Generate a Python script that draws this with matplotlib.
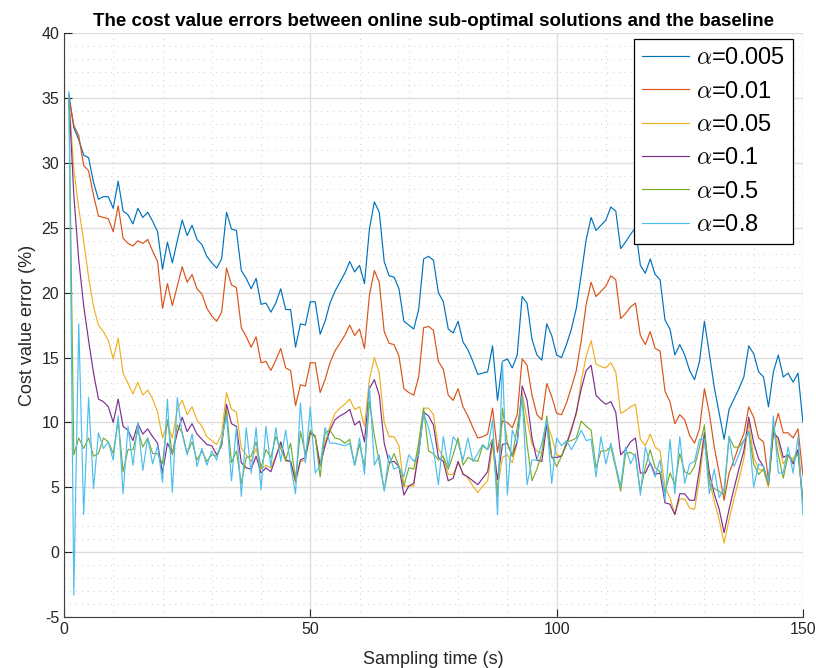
import numpy as np
import matplotlib
matplotlib.use('Agg')
import matplotlib.pyplot as plt
from matplotlib.ticker import MultipleLocator

plt.rcParams['font.family'] = ['Liberation Sans', 'DejaVu Sans']
plt.rcParams['mathtext.fontset'] = 'cm'
plt.rcParams['axes.unicode_minus'] = False

t = np.arange(1, 151)

a0005 = [35.3, 32.7, 31.8, 30.6, 30.4, 28.5, 27.2, 27.4, 27.4, 26.5,
         28.6, 26.3, 26.0, 25.3, 26.5, 25.8, 26.2, 25.5, 24.7, 21.8,
         23.9, 22.3, 24.0, 25.6, 24.4, 25.2, 24.1, 23.7, 22.8, 22.3,
         21.9, 22.6, 26.2, 24.9, 24.8, 21.7, 21.1, 20.3, 21.1, 19.1,
         19.2, 18.5, 19.2, 20.3, 18.7, 18.7, 15.8, 17.6, 17.5, 19.3,
         19.3, 16.8, 17.8, 19.2, 20.1, 20.8, 21.5, 22.4, 21.6, 22.1,
         20.7, 24.9, 27.0, 26.2, 22.4, 21.3, 21.2, 20.3, 17.8, 17.5,
         17.2, 18.7, 22.6, 22.8, 22.5, 20.0, 19.3, 17.2, 16.9, 17.8,
         16.2, 15.6, 14.7, 13.7, 13.8, 13.9, 15.9, 11.7, 14.7, 14.9,
         14.2, 15.2, 19.7, 19.2, 16.4, 15.2, 14.8, 17.6, 16.7, 15.2,
         15.0, 16.0, 17.2, 18.8, 21.4, 24.1, 25.8, 24.8, 25.2, 25.6,
         26.6, 26.3, 23.4, 23.9, 24.5, 25.0, 22.1, 21.5, 22.6, 21.4,
         21.0, 17.9, 17.2, 15.2, 16.0, 15.2, 14.0, 13.3, 14.7, 17.8,
         15.3, 12.7, 10.7, 8.7, 11.0, 11.8, 12.6, 13.5, 15.9, 15.3,
         13.9, 13.5, 11.2, 13.9, 15.2, 13.5, 13.8, 13.1, 13.8, 10.0]

a001 = [35.0, 32.9, 32.1, 29.8, 29.4, 27.5, 25.9, 25.8, 25.7, 24.7,
        26.7, 24.2, 23.8, 23.6, 24.0, 23.8, 24.1, 23.2, 22.4, 18.8,
        20.7, 19.0, 20.5, 22.0, 20.8, 21.4, 20.3, 19.9, 18.8, 18.2,
        17.8, 18.5, 21.9, 20.6, 20.4, 17.3, 16.6, 15.8, 16.6, 14.6,
        14.7, 14.0, 14.8, 15.7, 14.2, 14.0, 11.3, 12.9, 12.8, 14.6,
        14.6, 12.3, 13.3, 14.6, 15.5, 16.1, 16.7, 17.5, 16.7, 17.2,
        15.7, 19.8, 21.7, 20.8, 17.0, 16.1, 16.0, 15.1, 12.6, 12.3,
        12.1, 13.5, 17.3, 17.4, 17.1, 14.7, 14.1, 12.1, 11.7, 12.6,
        11.2, 10.5, 9.6, 8.8, 8.9, 9.1, 11.1, 7.7, 10.1, 10.0,
        9.6, 10.6, 14.9, 14.4, 12.1, 10.6, 10.2, 13.0, 12.0, 10.7,
        10.6, 11.5, 12.7, 14.0, 16.3, 19.1, 20.8, 19.7, 20.1, 20.5,
        21.3, 21.0, 18.0, 18.4, 18.9, 19.2, 16.7, 16.0, 17.0, 15.7,
        15.5, 12.4, 11.6, 9.9, 10.6, 10.2, 9.0, 8.4, 9.5, 12.6,
        10.7, 8.1, 6.1, 4.0, 6.1, 7.1, 8.2, 9.1, 11.2, 10.4,
        8.8, 8.5, 5.6, 9.3, 10.7, 9.2, 9.2, 8.8, 9.5, 5.9]

a005 = [35.0, 29.5, 26.5, 24.0, 21.2, 18.9, 17.5, 17.0, 16.3, 14.9,
        16.5, 13.8, 13.0, 12.2, 13.1, 12.1, 12.5, 11.8, 10.8, 8.8,
        9.9, 8.8, 11.0, 11.7, 10.6, 11.2, 10.2, 9.7, 8.9, 8.6,
        8.3, 9.1, 12.3, 11.0, 10.8, 8.0, 7.5, 7.0, 8.0, 6.4,
        6.7, 6.5, 7.4, 8.4, 7.0, 7.0, 5.3, 7.0, 7.1, 9.1,
        9.0, 6.6, 8.4, 9.7, 10.7, 11.1, 11.4, 11.8, 11.0, 11.2,
        9.7, 13.3, 15.0, 13.8, 10.0, 8.9, 8.9, 8.2, 5.1, 5.1,
        5.1, 8.4, 11.1, 11.1, 10.6, 8.0, 7.3, 6.0, 6.0, 6.9,
        6.1, 5.7, 5.1, 4.6, 5.1, 5.5, 8.3, 4.9, 7.3, 7.5,
        6.9, 8.5, 12.3, 10.2, 8.3, 7.8, 7.6, 10.0, 8.9, 7.5,
        7.4, 8.4, 9.6, 10.6, 13.2, 15.1, 16.3, 14.5, 14.3, 14.2,
        14.6, 13.9, 10.7, 10.9, 11.2, 11.4, 8.7, 8.2, 9.1, 8.1,
        7.8, 5.0, 4.2, 2.9, 4.1, 4.1, 3.4, 3.3, 5.6, 8.8,
        5.6, 3.9, 2.5, 0.7, 2.5, 4.1, 5.6, 7.2, 10.0, 7.3,
        6.4, 6.3, 5.0, 9.5, 8.4, 6.8, 7.4, 7.2, 7.9, 4.0]

a01 = [35.0, 27.5, 22.5, 19.0, 16.3, 13.8, 11.8, 11.6, 11.2, 10.0,
       11.8, 9.7, 9.4, 8.6, 9.9, 9.1, 9.5, 8.9, 8.4, 6.1,
       8.4, 7.6, 9.2, 10.4, 9.3, 9.9, 9.1, 8.7, 8.3, 8.2,
       7.5, 8.2, 11.4, 9.9, 9.7, 6.9, 6.5, 6.4, 7.4, 6.1,
       6.5, 6.2, 7.3, 8.5, 7.1, 7.0, 5.5, 7.1, 7.3, 9.2,
       8.9, 6.7, 8.2, 9.4, 10.2, 10.5, 10.7, 11.0, 9.8, 10.1,
       8.5, 12.6, 13.3, 12.1, 8.4, 6.9, 7.0, 6.6, 4.4, 5.1,
       5.3, 7.6, 10.8, 10.5, 9.8, 7.3, 7.0, 5.5, 5.7, 7.0,
       6.0, 5.8, 5.5, 5.2, 5.7, 6.2, 8.7, 5.6, 8.3, 8.4,
       7.4, 8.5, 12.8, 11.7, 8.8, 7.1, 7.0, 9.8, 7.3, 7.3,
       7.4, 8.3, 9.4, 10.8, 12.6, 14.0, 14.4, 12.1, 11.7, 11.4,
       11.6, 10.8, 7.5, 7.9, 8.5, 8.8, 6.1, 6.1, 6.9, 6.0,
       6.1, 3.8, 3.7, 2.9, 4.5, 4.5, 4.0, 4.0, 6.4, 9.2,
       6.1, 4.5, 3.3, 1.5, 3.3, 4.9, 6.4, 7.8, 10.4, 8.4,
       7.2, 6.6, 5.2, 9.2, 8.8, 7.3, 7.5, 6.8, 7.9, 3.8]

a05 = [35.0, 7.5, 8.8, 8.0, 8.8, 7.4, 7.6, 8.8, 8.5, 7.6,
       10.2, 6.2, 7.9, 7.9, 9.4, 8.1, 8.8, 7.6, 7.6, 6.8,
       10.2, 7.5, 9.8, 9.2, 7.6, 8.5, 7.1, 7.8, 7.0, 7.5,
       7.4, 8.3, 11.0, 6.9, 7.8, 5.3, 7.3, 7.4, 8.5, 6.5,
       7.9, 7.3, 8.9, 8.0, 7.1, 8.4, 5.6, 9.3, 7.6, 9.4,
       8.9, 5.8, 9.2, 9.4, 8.8, 8.7, 8.4, 8.7, 6.7, 8.3,
       6.6, 11.6, 9.0, 6.9, 4.8, 6.7, 7.6, 6.6, 5.1, 6.5,
       6.4, 8.4, 11.1, 7.8, 7.6, 7.1, 7.4, 6.4, 7.5, 8.8,
       6.7, 7.3, 7.1, 7.0, 8.2, 7.9, 8.7, 4.3, 11.1, 8.4,
       7.4, 9.6, 12.0, 8.3, 5.5, 6.4, 7.6, 10.5, 7.4, 6.6,
       7.4, 8.5, 8.6, 8.8, 10.1, 9.7, 9.4, 6.5, 7.8, 7.8,
       8.1, 6.5, 4.7, 7.6, 7.7, 7.4, 4.7, 6.5, 7.9, 6.5,
       6.2, 4.6, 6.1, 5.2, 7.6, 6.2, 6.0, 6.6, 8.1, 9.8,
       5.2, 4.9, 4.7, 4.4, 8.9, 8.1, 8.1, 8.6, 9.3, 6.8,
       6.0, 6.4, 5.2, 9.7, 7.5, 5.7, 7.5, 7.0, 7.6, 3.8]

a08 = [35.5, -3.3, 17.6, 2.9, 11.9, 4.9, 9.2, 8.0, 8.5, 7.1,
       10.5, 4.5, 9.7, 6.7, 10.0, 6.3, 8.8, 6.8, 8.2, 5.4,
       11.8, 4.6, 11.9, 9.1, 7.5, 9.1, 6.6, 8.0, 6.7, 7.8,
       7.1, 8.7, 10.5, 5.5, 9.6, 4.3, 9.6, 6.1, 9.6, 4.8,
       9.7, 6.6, 9.6, 7.0, 9.4, 6.7, 4.5, 11.5, 6.9, 11.2,
       6.1, 6.7, 9.6, 8.4, 8.4, 8.3, 8.2, 8.4, 6.7, 8.8,
       6.0, 12.8, 6.7, 7.5, 4.7, 7.5, 6.4, 6.6, 5.8, 7.5,
       7.0, 7.5, 10.7, 9.6, 7.9, 5.2, 8.9, 6.6, 8.9, 8.4,
       7.1, 8.8, 7.0, 7.6, 8.3, 7.9, 10.2, 2.9, 14.7, 4.4,
       9.4, 8.4, 12.0, 5.2, 7.1, 7.1, 8.4, 10.2, 5.3, 8.8,
       8.2, 8.6, 7.9, 8.6, 9.4, 8.6, 8.7, 5.8, 8.9, 6.8,
       8.4, 6.7, 5.1, 8.1, 6.8, 7.6, 4.4, 8.1, 6.8, 5.8,
       7.1, 4.0, 8.7, 4.5, 8.9, 5.3, 6.8, 7.0, 8.7, 8.7,
       4.5, 6.4, 4.2, 4.9, 8.9, 6.6, 7.5, 8.6, 9.3, 5.0,
       6.8, 6.6, 5.4, 10.5, 6.1, 6.1, 8.1, 6.1, 8.9, 2.9]

series = [a0005, a001, a005, a01, a05, a08]
labels = [r'$\alpha$=0.005', r'$\alpha$=0.01', r'$\alpha$=0.05',
          r'$\alpha$=0.1', r'$\alpha$=0.5', r'$\alpha$=0.8']
colors = ['#0072BD', '#D95319', '#EDB120', '#7E2F8E', '#77AC30', '#4DBEEE']

fig = plt.figure(figsize=(8.16, 6.68), dpi=100)
ax = fig.add_axes([0.0784, 0.0763, 0.9056, 0.874])

for y, lab, c in zip(series, labels, colors):
    ax.plot(t, y, '-', color=c, lw=0.85, label=lab)

ax.set_xlim(0, 150)
ax.set_ylim(-5, 40)
ax.xaxis.set_major_locator(MultipleLocator(50))
ax.yaxis.set_major_locator(MultipleLocator(5))
ax.xaxis.set_minor_locator(MultipleLocator(10))
ax.yaxis.set_minor_locator(MultipleLocator(1))
ax.grid(True, which='major', color='#dedede', lw=1.0, ls='-')
ax.grid(True, which='minor', color='#bdbdbd', lw=0.6, ls=(0, (1, 6)))
ax.set_axisbelow(True)
ax.tick_params(which='major', direction='in', length=6, labelsize=11.5,
               colors='#262626', width=0.8)
ax.tick_params(which='minor', length=0)
ax.spines['top'].set_visible(False)
ax.spines['right'].set_visible(False)
for s in ['left', 'bottom']:
    ax.spines[s].set_color('#404040')
    ax.spines[s].set_linewidth(0.8)

ax.set_xlabel('Sampling time (s)', fontsize=13, color='#262626', labelpad=10)
ax.set_ylabel('Cost value error (%)', fontsize=13, color='#262626', labelpad=4)
ax.set_title('The cost value errors between online sub-optimal solutions and the baseline',
             fontsize=13.5, fontweight='bold', pad=5)

leg = ax.legend(loc='upper right', bbox_to_anchor=(0.9865, 0.99), borderaxespad=0,
                fontsize=17, handlelength=2.0, labelspacing=0.48, handletextpad=0.28,
                fancybox=False, framealpha=1, borderpad=0.35)
leg.get_frame().set_edgecolor('black')
leg.get_frame().set_linewidth(0.9)

fig.savefig('out.png', dpi=100)
